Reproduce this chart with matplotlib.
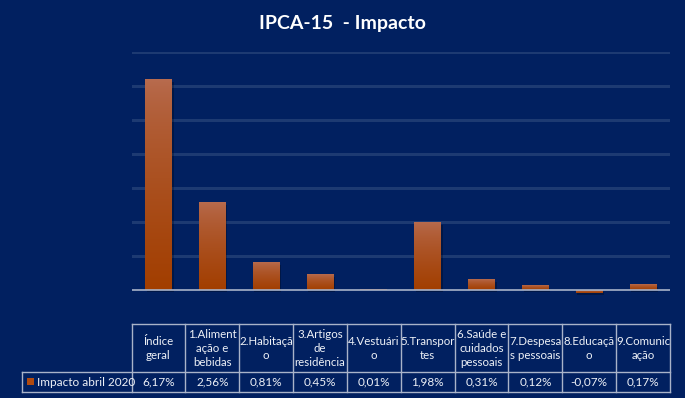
import matplotlib.pyplot as plt
import numpy as np
from matplotlib.lines import Line2D
from matplotlib.patches import Rectangle

categories = ['Índice\ngeral', '1.Aliment\nação e\nbebidas', '2.Habitaçã\no',
              '3.Artigos\nde\nresidência', '4.Vestuári\no', '5.Transpor\ntes',
              '6.Saúde e\ncuidados\npessoais', '7.Despesa\ns pessoais',
              '8.Educaçã\no', '9.Comunic\nação']
impacto = [6.17, 2.56, 0.81, 0.45, 0.01, 1.98, 0.31, 0.12, -0.07, 0.17]
series_name = 'Impacto abril 2020'
title = 'IPCA-15  - Impacto'

bg = '#012060'
grid_c = '#1d3a72'
line_c = '#a9b3c9'
text_c = '#eef1f7'
plt.rcParams['font.family'] = ['Lato', 'DejaVu Sans']

W, H = 685, 398
fig = plt.figure(figsize=(W / 100, H / 100), dpi=100, facecolor=bg)

# plot area in pixels
left_px, right_px, top_px, zero_px = 131.5, 670, 52, 290.3
ymax, ymin = 7.0, -0.15
ppu = (zero_px - top_px) / ymax
bottom_px = zero_px - ymin * ppu
ax = fig.add_axes([left_px / W, 1 - bottom_px / H,
                   (right_px - left_px) / W, (bottom_px - top_px) / H])
ax.set_facecolor(bg)
n = len(categories)
x = np.arange(n)
for s in ax.spines.values():
    s.set_visible(False)
ax.set_xticks([])
ax.set_yticks([])
for g in range(1, 8):
    ax.axhline(g, color=grid_c, lw=2.2, zorder=1)

# bars with vertical gradient + soft shadow
grad = np.linspace(0, 1, 256) ** 0.7
top_rgb = np.array([184, 108, 80]) / 255
bot_rgb = np.array([162, 62, 0]) / 255
img = top_rgb * (1 - grad[:, None]) + bot_rgb * grad[:, None]
img = img.reshape(256, 1, 3)
bw = 0.5
for xi, v in zip(x, impacto):
    ax.add_patch(Rectangle((xi - bw / 2 + 0.03, min(0, v) - 0.06), bw, abs(v),
                           color='black', alpha=0.25, lw=0, zorder=2))
    lo, hi = (0, v) if v >= 0 else (v, 0)
    ax.imshow(img, extent=[xi - bw / 2, xi + bw / 2, lo, hi],
              aspect='auto', zorder=3, interpolation='bilinear')
ax.set_xlim(-0.5, n - 0.5)
ax.set_ylim(ymin, ymax)
ax.axhline(0, color=line_c, lw=1.2, zorder=4)

fig.text(0.5, 1 - 24 / H, title, color='white', fontsize=14, fontweight='bold',
         ha='center', va='center')

# data table
def fx(px):
    return px / W


def fy(py):
    return 1 - py / H


lab_left = 22
t_top, t_mid, t_bot = 324, 372, 391.5
col_w = (right_px - left_px) / n
edges = [left_px + i * col_w for i in range(n + 1)]


def hline(y, x0, x1):
    fig.add_artist(Line2D([fx(x0), fx(x1)], [fy(y), fy(y)], color=line_c, lw=1))


def vline(xp, y0, y1):
    fig.add_artist(Line2D([fx(xp), fx(xp)], [fy(y0), fy(y1)], color=line_c, lw=1))


hline(t_top, left_px, right_px)
hline(t_mid, lab_left, right_px)
hline(t_bot, lab_left, right_px)
vline(lab_left, t_mid, t_bot)
for e in edges:
    vline(e, t_top, t_bot)

for i, (c, v) in enumerate(zip(categories, impacto)):
    cx = (edges[i] + edges[i + 1]) / 2
    fig.text(fx(cx), fy((t_top + t_mid) / 2 + 0.5), c, color=text_c, fontsize=8.3,
             ha='center', va='center', linespacing=1.3)
    fig.text(fx(cx), fy((t_mid + t_bot) / 2 + 0.5), f'{v:.2f}%'.replace('.', ','),
             color=text_c, fontsize=8.5, ha='center', va='center')

fig.add_artist(Rectangle((fx(27), fy(385)), 7 / W, 7 / H, color='#b04a10', lw=0))
fig.text(fx(37), fy((t_mid + t_bot) / 2 + 0.5), series_name, color=text_c,
         fontsize=8.5, ha='left', va='center')

fig.savefig('out.png', dpi=100, facecolor=bg)
